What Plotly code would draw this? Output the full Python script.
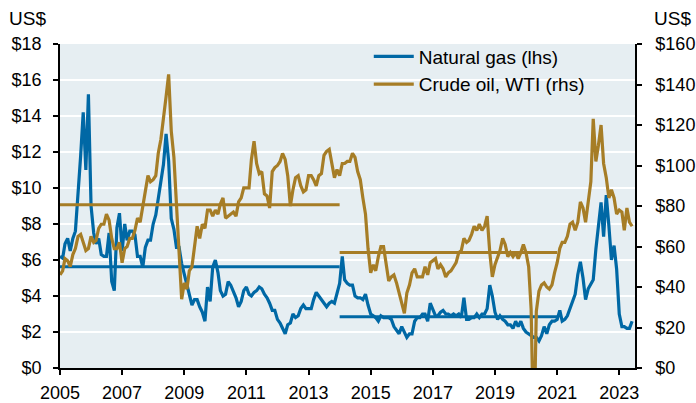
import pandas as pd
import plotly.graph_objects as go

# Monthly values, Jan 2005 - Jun 2023
gas_lhs = [
    6.2, 6.1, 6.9, 7.2, 6.5, 7.2, 7.6, 9.5, 11.8, 14.2, 11.0, 15.2,   # 2005
    9.0, 7.5, 6.9, 7.2, 6.3, 6.2, 6.2, 7.5, 4.8, 4.3, 7.8, 8.6,       # 2006
    6.5, 8.0, 7.1, 7.6, 7.6, 7.4, 6.2, 6.2, 5.6, 6.7, 7.1, 7.1,       # 2007
    8.0, 8.5, 9.4, 10.2, 11.3, 13.0, 11.5, 8.3, 7.7, 6.7, 6.7, 5.8,   # 2008
    5.2, 4.5, 4.0, 3.5, 3.8, 3.8, 3.4, 3.1, 2.6, 4.5, 3.7, 5.6,       # 2009
    6.0, 5.3, 4.3, 4.0, 4.1, 4.8, 4.6, 4.3, 3.9, 3.4, 3.7, 4.3,       # 2010
    4.5, 4.1, 4.0, 4.2, 4.3, 4.5, 4.4, 4.1, 3.9, 3.6, 3.2, 3.2,       # 2011
    2.7, 2.5, 2.2, 1.9, 2.4, 2.5, 3.0, 2.8, 2.9, 3.3, 3.5, 3.3,       # 2012
    3.3, 3.3, 3.8, 4.2, 4.0, 3.8, 3.6, 3.4, 3.6, 3.7, 3.6, 4.2,       # 2013
    4.7, 6.2, 4.9, 4.7, 4.6, 4.6, 4.0, 3.9, 3.9, 3.8, 4.1, 3.5,       # 2014
    3.0, 2.9, 2.8, 2.6, 2.9, 2.8, 2.8, 2.8, 2.7, 2.3, 2.1, 1.9,       # 2015
    2.3, 2.0, 1.7, 1.9, 1.9, 2.6, 2.8, 2.8, 3.0, 3.0, 2.6, 3.6,       # 2016
    3.3, 2.9, 2.9, 3.1, 3.2, 3.0, 3.0, 2.9, 3.0, 2.9, 3.0, 2.8,       # 2017
    3.9, 2.7, 2.7, 2.8, 2.8, 3.0, 2.8, 3.0, 3.0, 3.3, 4.6, 4.0,       # 2018
    3.1, 2.7, 2.9, 2.7, 2.6, 2.4, 2.4, 2.2, 2.6, 2.3, 2.6, 2.2,       # 2019
    2.0, 1.9, 1.8, 1.7, 1.7, 1.5, 1.8, 2.3, 1.9, 2.4, 2.6, 2.6,       # 2020
    2.7, 3.2, 2.6, 2.7, 2.9, 3.3, 3.8, 4.1, 5.2, 5.9, 5.0, 3.8,       # 2021
    4.4, 4.7, 4.9, 6.6, 8.1, 9.2, 7.3, 9.6, 7.9, 6.0, 6.8, 5.5,       # 2022
    3.0, 2.3, 2.3, 2.2, 2.2, 2.6,                                     # 2023
]

wti_rhs = [
    46, 48, 54, 53, 50, 56, 59, 65, 66, 62, 58, 59,        # 2005
    65, 62, 63, 69, 71, 71, 76, 73, 64, 59, 59, 62,        # 2006
    52, 59, 60, 64, 64, 68, 74, 72, 80, 86, 95, 92,        # 2007
    93, 95, 106, 113, 125, 134, 145, 117, 104, 77, 57, 34,  # 2008
    42, 39, 48, 50, 59, 70, 64, 71, 69, 78, 78, 75,        # 2009
    78, 76, 81, 84, 74, 75, 76, 77, 75, 82, 84, 89,        # 2010
    89, 89, 103, 112, 101, 96, 97, 86, 85, 79, 97, 99,     # 2011
    100, 102, 106, 103, 95, 80, 88, 94, 95, 90, 87, 88,    # 2012
    95, 95, 93, 90, 95, 96, 105, 107, 108, 100, 94, 98,    # 2013
    95, 101, 101, 102, 102, 106, 104, 97, 93, 84, 76, 59,  # 2014
    47, 51, 48, 55, 60, 60, 51, 43, 45, 46, 42, 37,        # 2015
    31, 27, 37, 41, 47, 49, 45, 45, 45, 50, 46, 52,        # 2016
    53, 54, 49, 51, 49, 45, 47, 48, 50, 52, 57, 58,        # 2017
    64, 62, 63, 66, 70, 68, 71, 68, 70, 75, 57, 45,        # 2018
    51, 55, 58, 64, 61, 55, 57, 55, 57, 54, 57, 61,        # 2019
    57, 50, 29, -37.6, 28, 38, 41, 42, 40, 39, 41, 47,     # 2020
    52, 59, 62, 62, 65, 71, 72, 68, 72, 82, 79, 72,        # 2021
    83, 92, 123, 102, 110, 120, 101, 94, 84, 88, 84, 76,   # 2022
    78, 77, 68, 79, 72, 70,                                # 2023
]

# Period averages
avg_periods = [("2005-01-01", "2014-01-01"), ("2014-01-01", "2021-01-01")]
gas_avgs = [5.63, 2.85]
wti_avgs = [80.6, 57.0]

series_names = ["Natural gas (lhs)", "Crude oil, WTI (rhs)"]
x_ticks = [str(y) for y in range(2005, 2024, 2)]

dates = pd.date_range("2005-01-01", periods=len(gas_lhs), freq="MS")

BLUE = "#0068A5"
GOLD = "#A67D26"
BG = "#E6EEF2"
FONT = "Liberation Sans, Arial, sans-serif"

fig = go.Figure()
fig.add_trace(go.Scatter(x=dates, y=gas_lhs, name=series_names[0], mode="lines",
                         line=dict(color=BLUE, width=3.2)))
fig.add_trace(go.Scatter(x=dates, y=wti_rhs, name=series_names[1], mode="lines",
                         line=dict(color=GOLD, width=3.2), yaxis="y2"))
for (s, e), g in zip(avg_periods, gas_avgs):
    fig.add_trace(go.Scatter(x=[s, e], y=[g, g], mode="lines", showlegend=False,
                             line=dict(color=BLUE, width=3), hoverinfo="skip"))
for (s, e), w in zip(avg_periods, wti_avgs):
    fig.add_trace(go.Scatter(x=[s, e], y=[w, w], mode="lines", showlegend=False,
                             line=dict(color=GOLD, width=3), yaxis="y2", hoverinfo="skip"))

fig.update_layout(
    width=696, height=403, autosize=False,
    margin=dict(l=60, r=61, t=44, b=35),
    paper_bgcolor="white", plot_bgcolor=BG,
    font=dict(family=FONT, size=18, color="black"),
    showlegend=True,
    legend=dict(x=0.537, y=1.02, xanchor="left", yanchor="top",
                bgcolor="rgba(0,0,0,0)", font=dict(size=19),
                tracegroupgap=0, itemwidth=40),
    xaxis=dict(type="date", range=["2005-01-01", "2023-07-05"],
               tickvals=[f"{y}-01-01" for y in x_ticks], ticktext=x_ticks,
               showgrid=False, showline=True, linecolor="black", linewidth=1.5,
               ticks="outside", ticklen=5, tickcolor="black", tickwidth=1.5,
               zeroline=False, automargin=False, ticklabelstandoff=3),
    yaxis=dict(range=[0, 18], dtick=2, tickprefix="$", showgrid=True,
               gridcolor="white", gridwidth=2, showline=True, linecolor="black",
               linewidth=1.5, ticks="outside", ticklen=5, tickcolor="black",
               tickwidth=1.5, zeroline=False, ticklabelstandoff=8, automargin=False),
    yaxis2=dict(range=[0, 160], dtick=20, tickprefix="$", overlaying="y",
                side="right", showgrid=False, showline=True, linecolor="black",
                linewidth=1.5, ticks="outside", ticklen=5, tickcolor="black",
                tickwidth=1.5, zeroline=False, ticklabelstandoff=10, automargin=False),
    annotations=[
        dict(text="US$", xref="paper", yref="paper", x=-0.057, y=1.0, yshift=26,
             xanchor="center", yanchor="middle", showarrow=False,
             font=dict(size=19)),
        dict(text="US$", xref="paper", yref="paper", x=1.0, xshift=37, y=1.0,
             yshift=26, xanchor="center", yanchor="middle", showarrow=False,
             font=dict(size=19)),
    ],
)

fig.write_html("out.html", config={"displayModeBar": False},
               post_script="document.body.style.margin='0';document.body.style.overflow='hidden';")
